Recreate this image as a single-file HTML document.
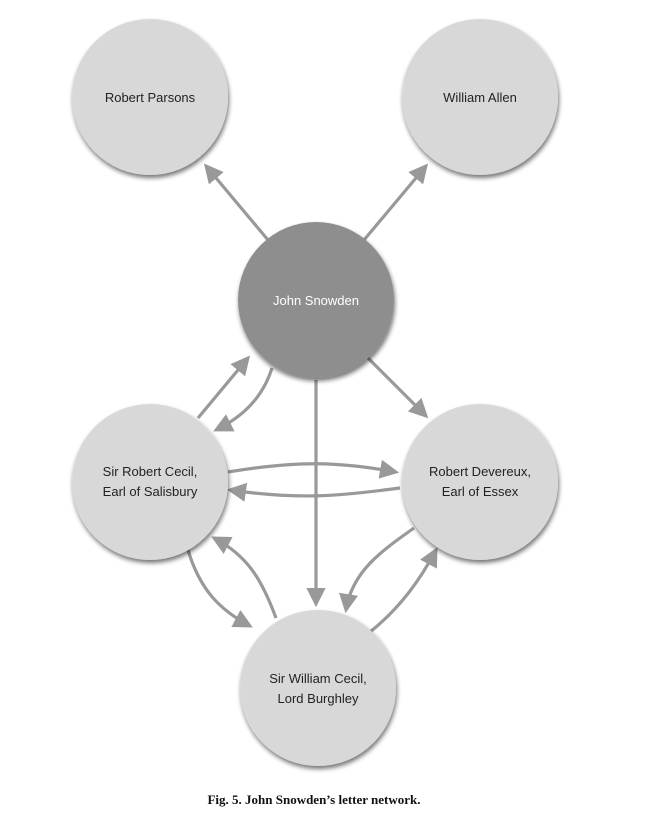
<!DOCTYPE html>
<html><head><style>
html,body{margin:0;padding:0;background:#fff;}
svg{display:block;}
</style></head><body>
<svg width="660" height="824" viewBox="0 0 660 824" xmlns="http://www.w3.org/2000/svg">
<defs>
<filter id="sh" x="-20%" y="-20%" width="150%" height="150%">
<feGaussianBlur in="SourceAlpha" stdDeviation="2.5"/>
<feOffset dx="1" dy="3" result="b"/>
<feComponentTransfer><feFuncA type="linear" slope="0.55"/></feComponentTransfer>
<feMerge><feMergeNode/><feMergeNode in="SourceGraphic"/></feMerge>
</filter>
<marker id="a" markerWidth="6" markerHeight="6" refX="5" refY="3" orient="auto" markerUnits="strokeWidth">
<path d="M0,0 L6,3 L0,6 z" fill="#999"/>
</marker>
</defs>
<g stroke="#999" stroke-width="3.2" fill="none" marker-end="url(#a)">
<path d="M268,240 L206,166"/>
<path d="M364,240 L426,166"/>
<path d="M368,358 L426,416"/>
<path d="M316,380 L316,604"/>
<path d="M198,418 L248,358"/>
<path d="M272,368 C262,400 240,418 216,430"/>
<path d="M228,472 C300,460 340,462 396,472"/>
<path d="M400,488 C340,496 300,500 230,490"/>
<path d="M188,550 C200,590 220,610 250,626"/>
<path d="M276,618 C262,580 248,556 214,538"/>
<path d="M414,528 C380,552 352,572 346,610"/>
<path d="M370,632 C400,608 420,580 436,550"/>
</g>
<g filter="url(#sh)">
<circle cx="150" cy="97" r="78" fill="#d8d8d8"/>
<circle cx="480" cy="97" r="78" fill="#d8d8d8"/>
<circle cx="316" cy="300" r="78" fill="#8e8e8e"/>
<circle cx="150" cy="482" r="78" fill="#d8d8d8"/>
<circle cx="480" cy="482" r="78" fill="#d8d8d8"/>
<circle cx="318" cy="688" r="78" fill="#d8d8d8"/>
</g>
<g font-size="13" text-anchor="middle" fill="#222" style="font-family:'Liberation Sans',Arial,sans-serif">
<text x="150" y="102">Robert Parsons</text>
<text x="480" y="102">William Allen</text>
<text x="316" y="305" fill="#fff">John Snowden</text>
<text x="150" y="476">Sir Robert Cecil,</text>
<text x="150" y="496">Earl of Salisbury</text>
<text x="480" y="476">Robert Devereux,</text>
<text x="480" y="496">Earl of Essex</text>
<text x="318" y="683">Sir William Cecil,</text>
<text x="318" y="703">Lord Burghley</text>
</g>
<text x="314" y="804" text-anchor="middle" style="font-family:'Liberation Serif',serif;font-weight:bold;font-size:13px" fill="#111">Fig. 5.  John Snowden’s letter network.</text>
</svg>
</body></html>
